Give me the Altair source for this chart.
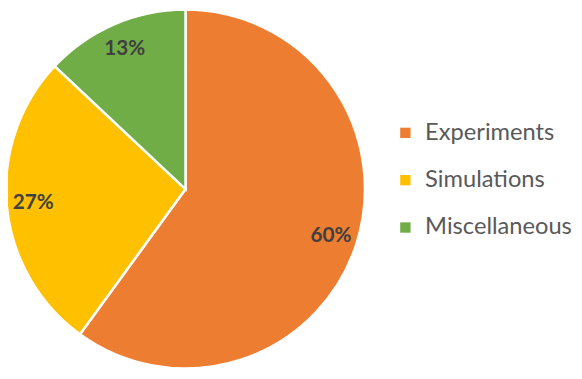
import altair as alt
import pandas as pd

categories = ["Experiments", "Simulations", "Miscellaneous"]
values = [60, 27, 13]
labels = ["60%", "27%", "13%"]
colors = ["#ED7D31", "#FFC000", "#70AD47"]

df = pd.DataFrame({"category": categories, "value": values, "label": labels,
                   "order": list(range(len(categories)))})

base = alt.Chart(df).encode(
    theta=alt.Theta("value:Q", stack=True),
    order=alt.Order("order:Q"),
    x=alt.value(180),
    y=alt.value(181),
)

pie = base.mark_arc(outerRadius=182, stroke="white", strokeWidth=2.5).encode(
    color=alt.Color(
        "category:N",
        scale=alt.Scale(domain=categories, range=colors),
        sort=categories,
        legend=alt.Legend(
            title=None, orient="none", legendX=391, legendY=112,
            symbolType="square", symbolSize=110, symbolStrokeWidth=0,
            labelFont="Lato", labelFontSize=24, labelColor="#595959",
            labelLimit=300,
            rowPadding=24, symbolOffset=0, labelOffset=8,
        ),
    )
)

text = base.mark_text(radius=155, font="Lato", fontSize=21, fontWeight="bold",
                      color="#404040").encode(text="label:N")

chart = (pie + text).properties(
    width=574, height=371, padding=0,
    autosize=alt.AutoSizeParams(type="none"),
).configure_view(stroke=None)

chart.save("out.html", embed_options={"renderer": "svg", "actions": False})
